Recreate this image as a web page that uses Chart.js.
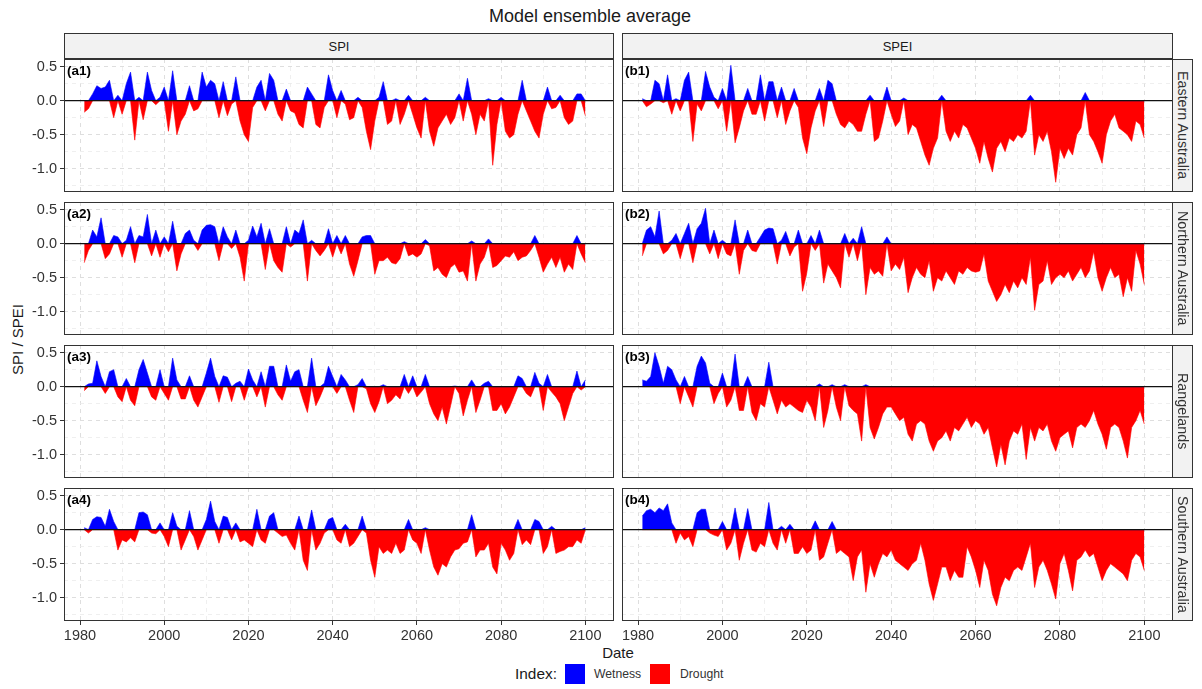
<!DOCTYPE html>
<html>
<head>
<meta charset="utf-8">
<script src="https://cdn.jsdelivr.net/npm/chart.js@4.4.1/dist/chart.umd.min.js"></script>
<style>
  html, body { margin: 0; padding: 0; background: #fff; overflow: hidden; }
  body { width: 1202px; height: 689px; position: relative; font-family: "Liberation Sans", Arial, sans-serif; }
  canvas { position: absolute; }
  .txt { position: absolute; white-space: nowrap; color: #1a1a1a; line-height: 1; }
  .strip { position: absolute; box-sizing: border-box; background: #f2f2f2; border: 1px solid #333;
           color: #1a1a1a; display: flex; align-items: center; justify-content: center; }
  .strip.top { font-size: 13px; }
  .strip.side { font-size: 14.3px; color: #333; writing-mode: vertical-rl; }
  .tag { position: absolute; font-weight: bold; font-size: 13.5px; color: #000; line-height: 1; }
  .key { position: absolute; width: 20px; height: 20px; }
</style>
</head>
<body>
<div class="txt" id="title" style="font-size:18px; top:7px; left:0; width:1180px; text-align:center;">Model ensemble average</div>
<div class="txt" style="font-size:15px; left:-30px; top:332px; width:94px; text-align:center; transform:rotate(-90deg); color:#1a1a1a;">SPI / SPEI</div>
<div class="txt" style="font-size:15px; left:568px; top:645px; width:100px; text-align:center;">Date</div>
<div class="txt" style="font-size:15.4px; left:515px; top:666px;">Index:</div>
<div class="key" style="left:565px; top:664px; background:#0000ff;"></div>
<div class="txt" style="font-size:12.2px; left:594px; top:668px; color:#333;">Wetness</div>
<div class="key" style="left:650px; top:664px; background:#ff0000;"></div>
<div class="txt" style="font-size:12.2px; left:680px; top:668px; color:#333;">Drought</div>

<script>
// annual values 1981-2100
const years = [];
for (let y = 1981; y <= 2100; y++) years.push(y);

const spiEastern = [
  -0.17,-0.12,0.1,0.22,0.18,0.2,0.3,-0.25,0.08,-0.2,
  0.25,0.42,-0.58,0.05,-0.28,0.42,0.15,-0.06,0.05,0.2,
  -0.45,0.44,-0.5,-0.3,-0.2,0.22,-0.15,-0.12,0.42,0.2,
  0.3,0.25,-0.25,0.28,-0.22,-0.05,0.35,-0.3,-0.5,-0.6,
  -0.1,0.2,0.3,-0.15,0.4,0.3,-0.2,-0.3,0.17,-0.15,
  -0.18,-0.35,-0.4,0.2,0.1,-0.35,-0.4,-0.1,0.38,0.15,
  -0.25,0.15,-0.05,-0.28,-0.25,0.05,-0.1,-0.45,-0.72,-0.3,
  0.05,0.28,-0.35,-0.3,0.03,-0.35,-0.2,0.08,-0.2,-0.4,
  -0.55,0.05,-0.45,-0.67,-0.4,-0.3,-0.2,-0.35,-0.25,0.1,
  -0.3,0.33,-0.2,-0.5,-0.2,-0.3,0.03,-0.95,-0.35,0.05,
  -0.45,-0.55,-0.5,-0.2,0.3,-0.15,-0.3,-0.45,-0.55,-0.2,
  0.2,-0.12,-0.1,0.08,-0.25,-0.35,-0.3,0.1,0.1,-0.22
];
const speiEastern = [
  0.03,-0.09,-0.05,0.3,0.25,-0.03,0.38,-0.2,0.03,-0.15,
  0.3,0.42,-0.6,-0.05,-0.15,0.43,0.2,0.05,-0.12,0.18,
  -0.45,0.52,-0.62,-0.4,-0.15,0.18,-0.2,-0.2,0.38,-0.3,
  0.28,0.28,-0.25,0.2,-0.35,-0.15,0.18,-0.1,-0.55,-0.78,
  -0.4,-0.15,0.18,-0.38,0.3,0.25,-0.2,-0.35,-0.4,-0.3,
  -0.35,-0.45,-0.45,-0.2,0.08,-0.6,-0.55,-0.3,0.2,-0.2,
  -0.38,-0.3,0.04,-0.5,-0.35,-0.4,-0.6,-0.8,-0.95,-0.7,
  -0.55,0.08,-0.45,-0.6,-0.45,-0.55,-0.35,-0.4,-0.55,-0.7,
  -0.92,-0.6,-0.85,-1.05,-0.7,-0.6,-0.75,-0.55,-0.6,-0.5,
  -0.55,-0.45,0.08,-0.8,-0.5,-0.6,-0.45,-0.75,-1.2,-0.7,
  -0.85,-0.7,-0.8,-0.5,-0.4,0.12,-0.5,-0.6,-0.75,-0.92,
  -0.5,-0.3,-0.2,-0.4,-0.45,-0.5,-0.6,-0.3,-0.35,-0.55
];
const spiNorthern = [
  -0.28,-0.1,0.2,0.1,0.38,-0.22,-0.15,0.12,0.1,-0.2,
  0.05,0.25,-0.28,0.12,0.1,0.43,-0.18,0.2,-0.2,0.1,
  -0.12,0.33,-0.4,-0.15,0.15,0.2,0.05,-0.1,0.2,0.27,
  0.28,0.25,-0.25,0.25,0.1,-0.07,0.2,-0.2,-0.55,0.05,
  0.26,0.1,0.3,-0.38,0.22,-0.25,-0.35,-0.42,0.25,-0.05,
  0.2,0.15,0.35,-0.55,0.05,-0.1,-0.18,-0.1,0.22,-0.2,
  0.12,-0.15,0.12,-0.3,-0.48,-0.25,0.1,0.12,0.12,-0.45,
  -0.25,-0.25,-0.2,-0.28,-0.3,-0.22,0.03,-0.18,-0.15,-0.2,
  -0.15,0.06,-0.03,-0.4,-0.35,-0.45,-0.5,-0.35,-0.3,-0.42,
  -0.4,-0.55,0.04,-0.55,-0.3,-0.2,0.07,-0.35,-0.32,-0.25,
  -0.18,-0.2,-0.12,-0.25,-0.2,-0.18,-0.1,0.12,-0.2,-0.42,
  -0.3,-0.2,-0.35,-0.2,-0.42,-0.3,-0.38,0.12,-0.15,-0.28
];
const speiNorthern = [
  -0.18,0.2,0.25,0.1,0.48,-0.15,-0.1,0.05,0.15,-0.22,
  0.15,0.3,-0.28,0.22,0.3,0.52,-0.15,0.2,-0.22,0.05,
  -0.15,-0.18,0.35,-0.45,-0.1,0.2,-0.1,-0.12,0.1,0.2,
  0.23,0.22,-0.3,0.05,0.18,-0.18,-0.05,0.2,-0.7,-0.43,
  0.12,-0.1,0.2,-0.58,-0.3,-0.4,-0.5,-0.65,0.15,-0.2,
  0.08,-0.25,0.25,-0.75,-0.35,-0.45,-0.4,-0.48,0.1,-0.4,
  -0.3,-0.38,-0.2,-0.72,-0.5,-0.35,-0.45,-0.5,-0.25,-0.7,
  -0.5,-0.55,-0.4,-0.5,-0.6,-0.4,-0.45,-0.35,-0.4,-0.42,
  -0.4,-0.15,-0.55,-0.7,-0.85,-0.75,-0.6,-0.72,-0.55,-0.65,
  -0.5,-0.6,-0.2,-0.98,-0.6,-0.55,-0.25,-0.6,-0.5,-0.45,
  -0.5,-0.4,-0.55,-0.45,-0.35,-0.5,-0.4,-0.12,-0.5,-0.7,
  -0.5,-0.35,-0.5,-0.45,-0.78,-0.5,-0.7,-0.1,-0.3,-0.6
];
const spiRangelands = [
  -0.06,0.04,0.05,0.38,0.15,-0.1,0.22,0.25,-0.15,-0.22,
  0.12,-0.2,-0.28,0.25,0.4,0.2,-0.15,-0.2,0.25,-0.1,
  -0.2,0.42,0.1,-0.18,-0.18,0.16,-0.2,-0.3,-0.15,0.2,
  0.42,0.15,-0.23,0.16,0.14,-0.22,0.05,0.08,-0.2,0.26,
  0.1,-0.15,0.22,-0.3,0.3,0.3,-0.12,-0.2,0.32,0.08,
  0.22,0.25,-0.2,-0.38,0.42,-0.28,-0.15,0.05,0.3,0.15,
  -0.1,0.18,0.1,-0.2,-0.38,0.03,0.12,-0.03,-0.25,-0.38,
  -0.22,0.03,-0.25,-0.2,-0.12,-0.18,0.18,-0.1,0.16,-0.15,
  -0.08,0.18,-0.25,-0.4,-0.5,-0.3,-0.55,-0.28,0.01,-0.1,
  -0.43,-0.2,0.1,-0.38,-0.2,0.05,0.08,-0.35,-0.35,-0.25,
  -0.4,-0.3,-0.15,0.16,0.12,-0.1,-0.15,0.21,0.05,-0.35,
  0.18,-0.08,-0.15,-0.25,-0.5,-0.3,-0.1,0.23,-0.05,0.1
];
const speiRangelands = [
  0.1,0.08,0.15,0.5,0.3,0.05,0.3,0.25,0.1,-0.25,
  0.15,-0.15,-0.3,0.3,0.45,0.35,0.05,-0.25,-0.1,0.2,
  -0.3,-0.2,0.48,-0.35,-0.35,0.15,-0.38,-0.5,-0.25,-0.3,
  0.36,-0.2,-0.4,-0.2,-0.3,-0.25,-0.3,-0.35,-0.38,-0.2,
  -0.3,-0.5,0.04,-0.6,-0.35,0.03,-0.3,-0.5,0.03,-0.28,
  -0.35,-0.4,-0.8,0.03,-0.6,-0.77,-0.6,-0.4,-0.3,-0.3,
  -0.4,-0.5,-0.45,-0.7,-0.8,-0.55,-0.5,-0.55,-0.8,-0.95,
  -0.8,-0.75,-0.65,-0.8,-0.6,-0.65,-0.55,-0.45,-0.6,-0.5,
  -0.55,-0.7,-0.6,-0.9,-1.18,-0.85,-1.15,-0.8,-0.65,-0.7,
  -0.55,-1.07,-0.6,-0.8,-0.6,-0.65,-0.55,-0.8,-0.95,-0.75,
  -0.7,-0.65,-0.9,-0.6,-0.55,-0.6,-0.5,-0.35,-0.55,-0.7,
  -0.92,-0.6,-0.55,-0.6,-0.8,-1.05,-0.6,-0.5,-0.35,-0.55
];
const spiSouthern = [
  0.03,-0.05,0.15,0.19,0.18,0.05,0.3,0.12,-0.3,-0.15,
  -0.18,-0.12,-0.18,0.25,0.26,0.22,-0.05,-0.06,0.1,-0.1,
  -0.25,0.25,0.05,-0.3,-0.15,0.28,-0.1,-0.3,-0.15,0.15,
  0.42,0.12,-0.2,0.2,0.18,-0.15,0.1,-0.18,-0.15,-0.2,
  -0.25,0.3,-0.15,-0.2,0.2,0.25,-0.05,-0.1,-0.08,-0.2,
  -0.3,0.2,-0.45,-0.6,0.29,-0.3,-0.2,-0.05,0.15,0.18,
  -0.15,-0.2,0.08,-0.25,-0.2,-0.1,0.2,-0.05,-0.45,-0.7,
  -0.25,-0.35,-0.3,-0.35,-0.2,-0.35,-0.3,0.15,-0.15,-0.2,
  -0.35,0.03,-0.3,-0.55,-0.67,-0.5,-0.55,-0.4,-0.3,-0.28,
  -0.2,-0.18,0.22,-0.4,-0.3,-0.3,-0.2,-0.55,-0.65,-0.2,
  -0.3,-0.45,-0.35,0.15,-0.22,-0.15,-0.22,0.15,0.12,-0.35,
  -0.25,0.05,-0.35,-0.32,-0.3,-0.25,-0.25,-0.15,-0.2,0.03
];
const speiSouthern = [
  0.2,0.28,0.3,0.25,0.32,0.28,0.38,0.1,-0.2,-0.05,
  -0.15,-0.1,-0.25,0.25,0.3,0.3,-0.05,-0.08,-0.1,0.12,
  -0.3,-0.2,0.32,-0.45,-0.2,0.31,-0.3,-0.33,-0.2,-0.25,
  0.4,-0.2,-0.3,0.05,-0.2,0.08,-0.35,-0.35,-0.25,-0.35,
  -0.3,0.13,-0.45,-0.4,-0.2,0.12,-0.35,-0.3,-0.35,-0.4,
  -0.75,-0.4,-0.3,-0.92,-0.5,-0.7,-0.5,-0.35,-0.4,-0.3,
  -0.45,-0.5,-0.55,-0.6,-0.5,-0.45,-0.2,-0.45,-0.8,-1.04,
  -0.8,-0.55,-0.55,-0.75,-0.6,-0.7,-0.7,-0.25,-0.4,-0.6,
  -0.85,-0.45,-0.6,-0.95,-1.12,-0.85,-0.7,-0.75,-0.6,-0.55,
  -0.6,-0.4,-0.2,-0.85,-0.55,-0.45,-0.6,-0.8,-1.02,-0.5,
  -0.35,-0.6,-0.9,-0.45,-0.4,-0.3,-0.4,-0.35,-0.55,-0.75,
  -0.6,-0.5,-0.55,-0.6,-0.65,-0.75,-0.45,-0.35,-0.4,-0.6
];

const regions = ['Eastern Australia', 'Northern Australia', 'Rangelands', 'Southern Australia'];
const indices = ['SPI', 'SPEI'];
const panelData = [
  [spiEastern, speiEastern],
  [spiNorthern, speiNorthern],
  [spiRangelands, speiRangelands],
  [spiSouthern, speiSouthern]
];
const xTicks = [1980, 1990, 2000, 2010, 2020, 2030, 2040, 2050, 2060, 2070, 2080, 2090, 2100];
const yTicks = [-1.25, -1, -0.75, -0.5, -0.25, 0, 0.25, 0.5];

// layout (px)
const rowTops = [59, 202, 345, 488];
const panelH = 133;
const colLeft = [64, 622];
const colRight = [614, 1173];
const canvasLeft = [0, 600];
const canvasW = [640, 600];
const fontFamily = '"Liberation Sans", Arial, sans-serif';

const panelDeco = {
  id: 'panelDeco',
  afterDatasetsDraw(chart) {
    const { ctx, chartArea: a, scales } = chart;
    const y0 = scales.y.getPixelForValue(0);
    ctx.save();
    ctx.strokeStyle = '#111';
    ctx.lineWidth = 1.3;
    ctx.beginPath();
    ctx.moveTo(a.left, y0);
    ctx.lineTo(a.right, y0);
    ctx.stroke();
    ctx.strokeStyle = '#333';
    ctx.lineWidth = 1;
    ctx.strokeRect(a.left + 0.5, a.top + 0.5, a.width - 1, a.height - 1);
    ctx.restore();
  }
};

const isMajorX = v => v % 20 === 0;
const isMajorY = v => Math.abs(v * 2 - Math.round(v * 2)) < 1e-6;
function gridColor(major) { return major ? '#dedede' : '#ebebeb'; }

function makePanel(values, row, col) {
  const bottomRow = row === rowTops.length - 1;
  const canvas = document.createElement('canvas');
  const h = panelH + (bottomRow ? 30 : 0);
  canvas.width = canvasW[col];
  canvas.height = h;
  canvas.style.left = canvasLeft[col] + 'px';
  canvas.style.top = rowTops[row] + 'px';
  canvas.style.width = canvasW[col] + 'px';
  canvas.style.height = h + 'px';
  document.body.appendChild(canvas);

  const axisW = colLeft[col] - canvasLeft[col];
  const padRight = canvasLeft[col] + canvasW[col] - colRight[col];

  new Chart(canvas, {
    type: 'line',
    data: {
      datasets: [
        {
          label: 'Wetness',
          data: years.map((yr, i) => ({ x: yr, y: Math.max(values[i], 0) })),
          backgroundColor: '#0000ff',
          borderColor: '#0000ff',
          borderWidth: 0.6,
          fill: 'origin',
          pointRadius: 0,
          tension: 0
        },
        {
          label: 'Drought',
          data: years.map((yr, i) => ({ x: yr, y: Math.min(values[i], 0) })),
          backgroundColor: '#ff0000',
          borderColor: '#ff0000',
          borderWidth: 0.6,
          fill: 'origin',
          pointRadius: 0,
          tension: 0
        }
      ]
    },
    options: {
      responsive: false,
      animation: false,
      devicePixelRatio: 1,
      events: [],
      layout: { padding: { left: 0, right: padRight, top: 0, bottom: 0 } },
      plugins: { legend: { display: false }, tooltip: { enabled: false } },
      scales: {
        x: {
          type: 'linear',
          min: 1976.2,
          max: 2106.8,
          afterBuildTicks: s => { s.ticks = xTicks.map(v => ({ value: v })); },
          afterFit: s => {
            s.height = bottomRow ? 30 : 0;
            s.paddingLeft = 0; s.paddingRight = 0;
          },
          ticks: {
            display: bottomRow,
            autoSkip: false,
            maxRotation: 0,
            padding: 2,
            color: '#333',
            font: { size: 14.5, family: fontFamily },
            callback: v => (isMajorX(v) ? String(v) : '')
          },
          grid: {
            color: c => gridColor(c.tick && isMajorX(c.tick.value)),
            lineWidth: c => (c.tick && isMajorX(c.tick.value) ? 1 : 0.8),
            drawTicks: bottomRow,
            tickLength: 4,
            tickWidth: 1,
            tickColor: c => (c.tick && isMajorX(c.tick.value) ? '#333' : 'rgba(0,0,0,0)'),
            tickBorderDash: []
          },
          border: { display: false, dash: [4, 4] }
        },
        y: {
          min: -1.343,
          max: 0.613,
          afterBuildTicks: s => { s.ticks = yTicks.map(v => ({ value: v })); },
          afterFit: s => {
            s.width = axisW;
            s.paddingTop = 0; s.paddingBottom = 0;
          },
          ticks: {
            display: col === 0,
            autoSkip: false,
            padding: 3,
            color: '#333',
            font: { size: 14.5, family: fontFamily },
            callback: v => (isMajorY(v) ? v.toFixed(1) : '')
          },
          grid: {
            color: c => gridColor(c.tick && isMajorY(c.tick.value)),
            lineWidth: c => (c.tick && isMajorY(c.tick.value) ? 1 : 0.8),
            drawTicks: col === 0,
            tickLength: 4,
            tickWidth: 1,
            tickColor: c => (c.tick && isMajorY(c.tick.value) ? '#333' : 'rgba(0,0,0,0)'),
            tickBorderDash: []
          },
          border: { display: false, dash: [4, 4] }
        }
      }
    },
    plugins: [panelDeco]
  });

  const tag = document.createElement('div');
  tag.className = 'tag';
  tag.textContent = '(' + 'ab'[col] + (row + 1) + ')';
  tag.style.left = (colLeft[col] + 3) + 'px';
  tag.style.top = (rowTops[row] + 5) + 'px';
  document.body.appendChild(tag);
}

panelData.forEach((pair, row) => pair.forEach((vals, col) => makePanel(vals, row, col)));

// facet strips
indices.forEach((name, col) => {
  const d = document.createElement('div');
  d.className = 'strip top';
  d.textContent = name;
  d.style.left = colLeft[col] + 'px';
  d.style.top = '33px';
  d.style.width = (colRight[col] - colLeft[col]) + 'px';
  d.style.height = '26px';
  document.body.appendChild(d);
});
regions.forEach((name, row) => {
  const d = document.createElement('div');
  d.className = 'strip side';
  d.textContent = name;
  d.style.left = (colRight[1] - 1) + 'px';
  d.style.top = rowTops[row] + 'px';
  d.style.width = '21px';
  d.style.height = panelH + 'px';
  document.body.appendChild(d);
});
</script>
</body>
</html>
